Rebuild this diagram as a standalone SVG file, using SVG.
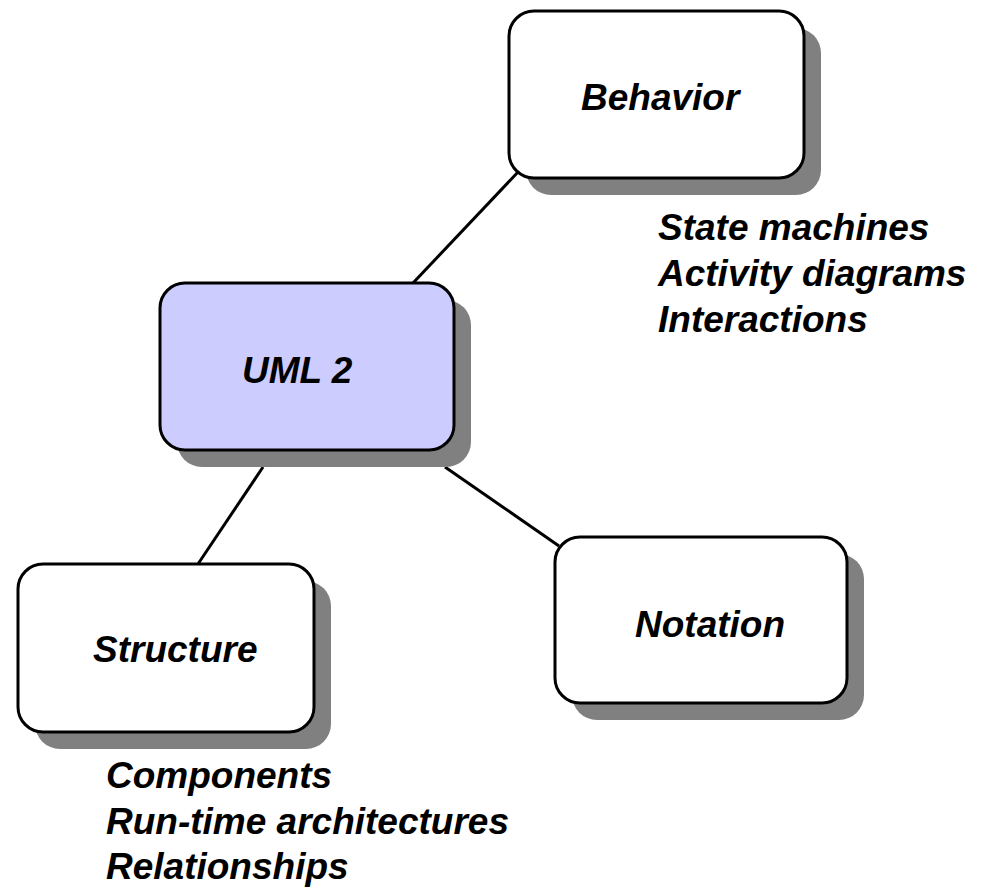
<svg xmlns="http://www.w3.org/2000/svg" width="985" height="888" viewBox="0 0 985 888">
<style>
.shadow{fill:#808080;stroke:none}
.box{fill:#ffffff;stroke:#000;stroke-width:3}
.main{fill:#ccccff}
.conn{stroke:#000;stroke-width:3;fill:none}
text{font-family:"Liberation Sans",Arial,sans-serif;font-size:37px;font-weight:bold;font-style:italic;fill:#000}
</style>
<rect width="985" height="888" fill="#fff"/>
<g id="connectors">
<line class="conn" x1="413" y1="283" x2="519" y2="171"/>
<line class="conn" x1="263" y1="467" x2="198" y2="564"/>
<line class="conn" x1="445" y1="467" x2="559" y2="546"/>
</g>
<g id="behavior">
<rect class="shadow" x="526" y="28" width="295" height="167" rx="25"/>
<rect class="box" x="509" y="11" width="295" height="167" rx="25"/>
<text x="581" y="110">Behavior</text>
</g>
<g id="uml2">
<rect class="shadow" x="177" y="300" width="294" height="167" rx="25"/>
<rect class="box main" x="160" y="283" width="294" height="167" rx="25"/>
<text x="242" y="383">UML 2</text>
</g>
<g id="structure">
<rect class="shadow" x="35" y="581" width="296" height="168" rx="25"/>
<rect class="box" x="18" y="564" width="296" height="168" rx="25"/>
<text x="93" y="662">Structure</text>
</g>
<g id="notation">
<rect class="shadow" x="572" y="554" width="292" height="166" rx="25"/>
<rect class="box" x="555" y="537" width="292" height="166" rx="25"/>
<text x="635" y="637">Notation</text>
</g>
<g id="behavior-notes">
<text x="658" y="240">State machines</text>
<text x="658" y="286">Activity diagrams</text>
<text x="658" y="332">Interactions</text>
</g>
<g id="structure-notes">
<text x="106" y="788">Components</text>
<text x="106" y="834">Run-time architectures</text>
<text x="106" y="879">Relationships</text>
</g>
</svg>
